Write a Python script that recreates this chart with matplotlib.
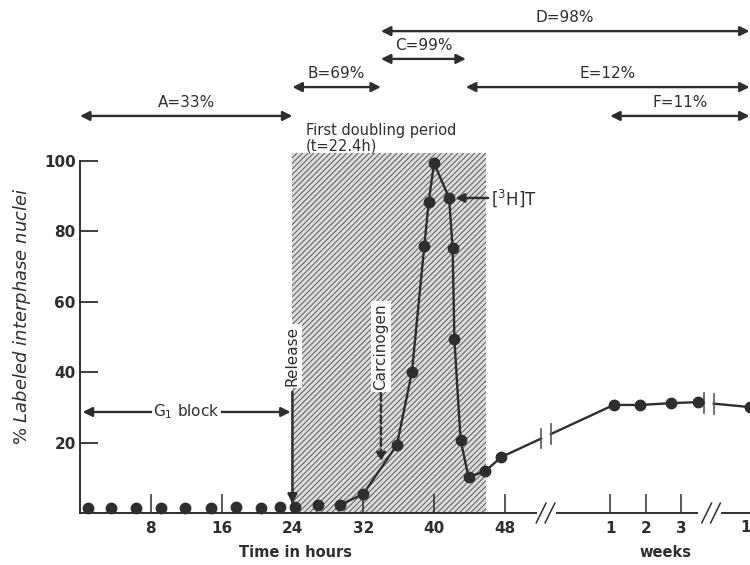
import numpy as np
import matplotlib
matplotlib.use('Agg')
import matplotlib.pyplot as plt
from matplotlib.patches import Rectangle

plt.rcParams['font.family'] = ['DejaVu Sans']
plt.rcParams['mathtext.fontset'] = 'dejavusans'
plt.rcParams['hatch.linewidth'] = 0.7

INK = '#2e2e2e'

# ─── Data ───
EARLY_HOURS = [0.9, 3.5, 6.3, 9.1, 11.9, 14.8, 17.6, 20.4, 22.6, 24.3, 26.9]
EARLY_VALUES = [1.5, 1.5, 1.5, 1.5, 1.4, 1.5, 1.6, 1.5, 1.6, 1.6, 2.3]
CURVE_HOURS = [29.4, 32.0, 35.8, 37.5, 38.9, 39.4, 40.0, 41.7, 42.1, 42.3, 43.0, 43.9, 45.8, 47.6]
CURVE_VALUES = [2.3, 5.4, 19.3, 40.0, 75.8, 88.4, 99.4, 89.5, 75.3, 49.4, 20.7, 10.2, 11.9, 15.9]
WEEKS = [1.1, 1.85, 2.7, 3.45]
WEEK_VALUES = [30.7, 30.7, 31.2, 31.5]
LATE_X = [1.1]
LATE_VALUES = [30.1]

HOUR_TICKS = [8, 16, 24, 32, 40, 48]
WEEK_TICKS = [1, 2, 3]
LATE_TICKS = [1]
Y_TICKS = [20, 40, 60, 80, 100]

RELEASE_H = 24
CARCINOGEN_H = 34
SHADE_END_H = 45.9          # right edge of the shaded period as drawn
LABEL_END_H = 43.6
THYMIDINE_H = 41.7
THYMIDINE_VALUE = 89.5

PERIOD_LABELS = ['A=33%', 'B=69%', 'C=99%', 'D=98%', 'E=12%', 'F=11%']


# ─── Broken x axis: hours, then weeks, then the last segment ───
def week_pos(w):
    return 59.9 + 4.03 * (np.asarray(w, dtype=float) - 1)


def late_pos(v):
    return 75.25 + 4.03 * (np.asarray(v, dtype=float) - 1)


X_END = 75.7
LINE_GAPS = [(52.1, 53.2), (70.5, 71.6)]
AXIS_SEGMENTS = [(0, 51.5), (53.9, 69.7), (72.5, X_END)]
SLASHES = [52.1, 53.1, 70.8, 71.8]

fig = plt.figure(figsize=(7.5, 5.65), dpi=100)
ax = fig.add_axes([80 / 750, 52 / 565, 670 / 750, 513 / 565])
ax.set_xlim(0, X_END)
ax.set_ylim(0, 513 / 3.52)

# shaded first doubling period
ax.add_patch(Rectangle((RELEASE_H, 0), SHADE_END_H - RELEASE_H, 102.3, facecolor='#dcdcdc',
                       edgecolor='#5a5a5a', hatch='//////', linewidth=0, zorder=1))

# connected curve, broken at the axis breaks
xs = np.concatenate([CURVE_HOURS, week_pos(WEEKS), late_pos(LATE_X)])
ys = np.concatenate([CURVE_VALUES, WEEK_VALUES, LATE_VALUES])
bounds = [xs[0]] + [v for g in LINE_GAPS for v in g] + [xs[-1]]
for a, b in zip(bounds[0::2], bounds[1::2]):
    inside = (xs > a) & (xs < b)
    sx = np.concatenate([[a], xs[inside], [b]])
    sy = np.interp(sx, xs, ys)
    ax.plot(sx, sy, color=INK, lw=1.7, zorder=3, clip_on=False)
for g in LINE_GAPS:
    for e in g:
        yv = np.interp(e, xs, ys)
        ax.plot([e, e], [yv - 2.8, yv + 2.8], color='#555', lw=1.2, zorder=3)

all_x = np.concatenate([EARLY_HOURS, xs])
all_y = np.concatenate([EARLY_VALUES, ys])
ax.plot(all_x, all_y, 'o', color=INK, ms=7.5, zorder=4, clip_on=False)

# axes
for s in ['top', 'right', 'bottom']:
    ax.spines[s].set_visible(False)
ax.spines['left'].set_bounds(0, 100)
ax.spines['left'].set_linewidth(1.4)
ax.spines['left'].set_color(INK)
for a, b in AXIS_SEGMENTS:
    ax.plot([a, b], [0, 0], color=INK, lw=1.4, clip_on=False, zorder=2)
for sx in SLASHES:
    ax.plot([sx - 0.55, sx + 0.55], [-2.8, 2.8], color=INK, lw=1.1, clip_on=False, zorder=2)

xt = list(HOUR_TICKS) + list(week_pos(WEEK_TICKS)) + list(late_pos(LATE_TICKS))
xl = [str(t) for t in HOUR_TICKS] + [str(t) for t in WEEK_TICKS] + [str(t) for t in LATE_TICKS]
ax.set_xticks(xt[:-1])
ax.set_xticklabels(xl[:-1])
ax.text(xt[-1], -4.0, xl[-1], ha='center', va='center', fontsize=11,
        fontweight='bold', color=INK, clip_on=False)
ax.set_yticks(Y_TICKS)
ax.tick_params(axis='x', direction='in', length=14, width=1.1, pad=6,
               labelsize=11, colors=INK)
ax.tick_params(axis='y', direction='in', length=13, width=1.3, pad=3,
               labelsize=11, colors=INK)
for lab in ax.get_xticklabels() + ax.get_yticklabels():
    lab.set_fontweight('bold')

ax.text(24.4, -11.2, 'Time in hours', ha='center', va='center', fontsize=10.5,
        fontweight='bold', color=INK, clip_on=False)
ax.text(66.1, -11.2, 'weeks', ha='center', va='center', fontsize=10.5,
        fontweight='bold', color=INK, clip_on=False)
fig.text(22 / 750, 1 - 316 / 565, r'% $\mathit{Labeled\ interphase\ nuclei}$',
         rotation=90, ha='center', va='center', fontsize=13, color=INK)

# period brackets on top
end = X_END - 0.05
spans = [(0, RELEASE_H), (RELEASE_H, CARCINOGEN_H), (CARCINOGEN_H, LABEL_END_H),
         (CARCINOGEN_H, end), (LABEL_END_H, end), (float(week_pos(1)), end)]
row_y = [112.8, 121.0, 129.0, 136.9, 121.0, 112.8]
for lab, (a, b), yv in zip(PERIOD_LABELS, spans, row_y):
    ax.annotate('', xy=(b, yv), xytext=(a, yv),
                arrowprops=dict(arrowstyle='<|-|>', color=INK, lw=1.7,
                                mutation_scale=14, shrinkA=0, shrinkB=0),
                annotation_clip=False)
    ax.text((a + b) / 2, yv + 3.8, lab, ha='center', va='center', fontsize=11,
            color=INK, clip_on=False)

ax.text(25.5, 108.7, 'First doubling period', ha='left', va='center', fontsize=10.5, color=INK)
ax.text(25.5, 104.4, '(t=22.4h)', ha='left', va='center', fontsize=10.5, color=INK)

# Release and carcinogen markers
white = dict(facecolor='white', edgecolor='none', pad=1.5)
ax.text(RELEASE_H, 44.6, 'Release', rotation=90, ha='center', va='center',
        fontsize=11, color=INK, bbox=white, zorder=5)
ax.annotate('', xy=(RELEASE_H, 2.6), xytext=(RELEASE_H, 34.4),
            arrowprops=dict(arrowstyle='-|>', color=INK, lw=1.8, mutation_scale=14,
                            shrinkA=0, shrinkB=0), zorder=5)
ax.text(CARCINOGEN_H, 47.2, 'Carcinogen', rotation=90, ha='center', va='center',
        fontsize=11, color=INK, bbox=white, zorder=5)
ax.annotate('', xy=(CARCINOGEN_H, 14.5), xytext=(CARCINOGEN_H, 34.0),
            arrowprops=dict(arrowstyle='-|>', color=INK, lw=1.8, mutation_scale=13,
                            linestyle=(0, (3, 1.5)), shrinkA=0, shrinkB=0), zorder=5)

# G1 block
ax.annotate('', xy=(0.3, 28.7), xytext=(RELEASE_H - 0.2, 28.7),
            arrowprops=dict(arrowstyle='<|-|>', color=INK, lw=1.7, mutation_scale=14,
                            shrinkA=0, shrinkB=0), zorder=5)
ax.text(12.0, 28.7, r'G$_1$ block', ha='center', va='center', fontsize=11,
        color=INK, bbox=dict(facecolor='white', edgecolor='none', pad=1), zorder=6)

# [3H]T pointer
ax.annotate('', xy=(THYMIDINE_H + 0.7, THYMIDINE_VALUE), xytext=(46.1, THYMIDINE_VALUE),
            arrowprops=dict(arrowstyle='-|>', color=INK, lw=1.8, mutation_scale=13,
                            shrinkA=0, shrinkB=0), zorder=5)
ax.text(46.4, THYMIDINE_VALUE, r'$\left[^{3}\mathrm{H}\right]\mathrm{T}$', ha='left',
        va='center', fontsize=12, color=INK)

fig.savefig('out.png', dpi=100, facecolor='white')
